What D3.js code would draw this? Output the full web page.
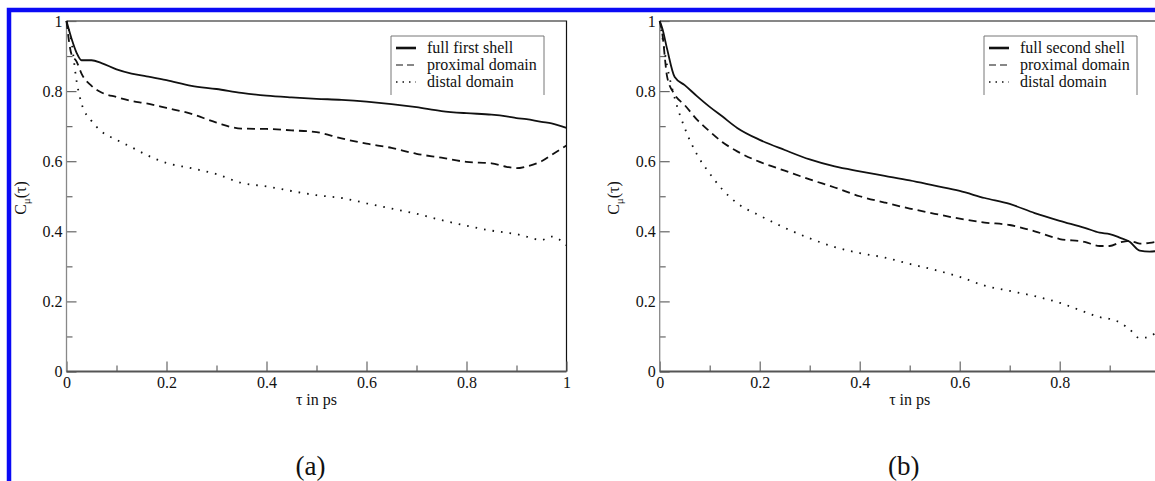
<!DOCTYPE html>
<html>
<head>
<meta charset="utf-8">
<script src="https://cdn.jsdelivr.net/npm/d3@7"></script>
<style>
    body { margin: 0; background: #fff; }
    text { font-family: "Liberation Serif", "DejaVu Serif", serif; fill: #111; }
</style>
</head>
<body>
<div id="chart"></div>
<script>
// panel (a) data
var tauA = [0, 0.01, 0.02, 0.03, 0.05, 0.07, 0.1, 0.13, 0.16, 0.2, 0.25, 0.3, 0.35, 0.4, 0.45, 0.5,
    0.55, 0.6, 0.65, 0.7, 0.75, 0.8, 0.85, 0.88, 0.9, 0.92, 0.95, 0.97, 1.0];
var fullFirstShell = [1.0, 0.95, 0.91, 0.888, 0.888, 0.88, 0.862, 0.85, 0.842, 0.831, 0.815, 0.806, 0.795, 0.787, 0.782, 0.778,
    0.775, 0.77, 0.763, 0.754, 0.743, 0.737, 0.733, 0.728, 0.723, 0.72, 0.712, 0.708, 0.695];
var proximalA = [1.0, 0.905, 0.885, 0.85, 0.815, 0.796, 0.783, 0.772, 0.765, 0.752, 0.735, 0.71, 0.693, 0.692, 0.688, 0.683,
    0.665, 0.65, 0.638, 0.621, 0.61, 0.598, 0.594, 0.584, 0.58, 0.585, 0.6, 0.618, 0.645];
var distalA = [1.0, 0.94, 0.83, 0.765, 0.715, 0.685, 0.661, 0.64, 0.618, 0.595, 0.58, 0.563, 0.538, 0.528, 0.515, 0.503,
    0.495, 0.48, 0.465, 0.45, 0.432, 0.416, 0.402, 0.396, 0.392, 0.385, 0.375, 0.385, 0.36];

// panel (b) data
var tauB = [0, 0.005, 0.015, 0.03, 0.05, 0.075, 0.1, 0.125, 0.155, 0.2, 0.25, 0.3, 0.35, 0.4, 0.45, 0.5,
    0.55, 0.6, 0.65, 0.7, 0.75, 0.8, 0.85, 0.88, 0.9, 0.92, 0.94, 0.96, 0.98, 1.0];
var fullSecondShell = [1.0, 0.98, 0.919, 0.84, 0.817, 0.785, 0.755, 0.728, 0.695, 0.661, 0.632, 0.605, 0.585, 0.571, 0.558, 0.545,
    0.53, 0.515, 0.495, 0.478, 0.452, 0.43, 0.41, 0.396, 0.392, 0.382, 0.37, 0.345, 0.342, 0.345];
var proximalB = [1.0, 0.966, 0.84, 0.79, 0.76, 0.718, 0.685, 0.655, 0.628, 0.598, 0.573, 0.548, 0.525, 0.5, 0.482, 0.465,
    0.45, 0.436, 0.425, 0.418, 0.4, 0.378, 0.37, 0.358, 0.358, 0.368, 0.373, 0.365, 0.367, 0.372];
var distalB = [1.0, 0.957, 0.871, 0.78, 0.695, 0.618, 0.565, 0.52, 0.48, 0.445, 0.41, 0.38, 0.355, 0.338, 0.325, 0.307,
    0.29, 0.27, 0.245, 0.23, 0.215, 0.196, 0.17, 0.155, 0.15, 0.14, 0.12, 0.095, 0.1, 0.12];

var majorTicks = [0, 0.2, 0.4, 0.6, 0.8, 1];
var minorTicks = [0.1, 0.3, 0.5, 0.7, 0.9];
var legendA = ["full first shell", "proximal domain", "distal domain"];
var legendB = ["full second shell", "proximal domain", "distal domain"];
var panelLabels = ["(a)", "(b)"];

var W = 1155, H = 481;
var svg = d3.select("#chart").append("svg")
    .attr("width", W).attr("height", H);

svg.append("rect").attr("width", W).attr("height", H).attr("fill", "#fff");

// blue frame (top and left edges visible)
svg.append("path")
    .attr("d", "M9,500 L9,10 L1200,10")
    .attr("fill", "none")
    .attr("stroke", "#0a0af5")
    .attr("stroke-width", 4.5);

var styles = [
    { dash: null, width: 1.8 },
    { dash: "8,5", width: 1.8 },
    { dash: "1.6,7", width: 1.8 }
];
var legendStyles = [
    { dash: null, width: 2.6 },
    { dash: "7,4", width: 1.2 },
    { dash: "1.5,5", width: 1.5 }
];

function drawPanel(left, tau, series, legendNames, legendX, label) {
    var top = 21, width = 500, height = 350.5;
    var g = svg.append("g").attr("transform", "translate(" + left + "," + top + ")");

    var x = d3.scaleLinear().domain([0, 1]).range([0, width]);
    var y = d3.scaleLinear().domain([0, 1]).range([height, 0]);
    var fmt = d3.format("~g");

    // top and right frame
    g.append("path")
        .attr("d", "M0,0 L" + width + ",0 L" + width + "," + height)
        .attr("fill", "none").attr("stroke", "#111").attr("stroke-width", 1.2);

    // y axis
    g.append("g")
        .call(d3.axisLeft(y).tickValues(majorTicks).tickSize(-10).tickPadding(4).tickFormat(fmt));
    g.append("g")
        .call(d3.axisLeft(y).tickValues(minorTicks).tickSize(-6).tickFormat(""));

    // x axis, labels only for ticks that fall inside the page
    var xMajor = majorTicks.filter(function (t) { return left + x(t) < W - 4; });
    g.append("g")
        .attr("transform", "translate(0," + height + ")")
        .call(d3.axisBottom(x).tickValues(xMajor).tickSize(-10).tickPadding(5).tickFormat(fmt));
    g.append("g")
        .attr("transform", "translate(0," + height + ")")
        .call(d3.axisBottom(x).tickValues(minorTicks).tickSize(-6).tickFormat(""));

    g.selectAll(".domain").remove();
    g.selectAll(".tick text")
        .attr("font-size", 16).attr("fill", "#222");
    g.selectAll(".tick line").attr("stroke", "#666").attr("stroke-width", 1.2);

    g.append("line").attr("x1", 0).attr("x2", 0).attr("y1", 0).attr("y2", height)
        .attr("stroke", "#888").attr("stroke-width", 1.3);
    g.append("line").attr("x1", 0).attr("x2", width).attr("y1", height).attr("y2", height)
        .attr("stroke", "#555").attr("stroke-width", 1.8);

    // curves
    var line = d3.line()
        .x(function (d) { return x(d[0]); })
        .y(function (d) { return y(d[1]); })
        .curve(d3.curveMonotoneX);

    series.forEach(function (vals, i) {
        g.append("path")
            .datum(tau.map(function (t, k) { return [t, vals[k]]; }))
            .attr("fill", "none")
            .attr("stroke", "#111")
            .attr("stroke-width", styles[i].width)
            .attr("stroke-dasharray", styles[i].dash)
            .attr("d", line);
    });

    // legend, box open at the bottom
    var lx = legendX - left, ly = 15, lw = 153, lh = 59;
    g.append("path")
        .attr("d", "M" + lx + "," + (ly + lh) + " L" + lx + "," + ly + " L" + (lx + lw) + "," + ly + " L" + (lx + lw) + "," + (ly + lh))
        .attr("fill", "none").attr("stroke", "#777").attr("stroke-width", 1);
    legendNames.forEach(function (name, i) {
        var ry = ly + 12 + i * 17;
        g.append("line")
            .attr("x1", lx + 5).attr("x2", lx + 25).attr("y1", ry).attr("y2", ry)
            .attr("stroke", "#111")
            .attr("stroke-width", legendStyles[i].width)
            .attr("stroke-dasharray", legendStyles[i].dash);
        g.append("text")
            .attr("x", lx + 36).attr("y", ry + 5)
            .attr("font-size", 16)
            .text(name);
    });

    // axis titles
    g.append("text")
        .attr("x", width / 2).attr("y", height + 33)
        .attr("text-anchor", "middle")
        .attr("font-size", 16)
        .text("τ in ps");

    var yl = g.append("text")
        .attr("transform", "translate(" + (-41) + ",177) rotate(-90)")
        .attr("text-anchor", "middle")
        .attr("font-size", 16);
    yl.append("tspan").text("C");
    yl.append("tspan").attr("font-size", 11).attr("dy", 4).text("μ");
    yl.append("tspan").attr("dy", -4).text("(τ)");

    g.append("text")
        .attr("x", width / 2 - 6).attr("y", 454)
        .attr("text-anchor", "middle")
        .attr("font-size", 27)
        .text(label);
}

drawPanel(66.5, tauA, [fullFirstShell, proximalA, distalA], legendA, 391, panelLabels[0]);
drawPanel(659.7, tauB, [fullSecondShell, proximalB, distalB], legendB, 984, panelLabels[1]);
</script>
</body>
</html>
